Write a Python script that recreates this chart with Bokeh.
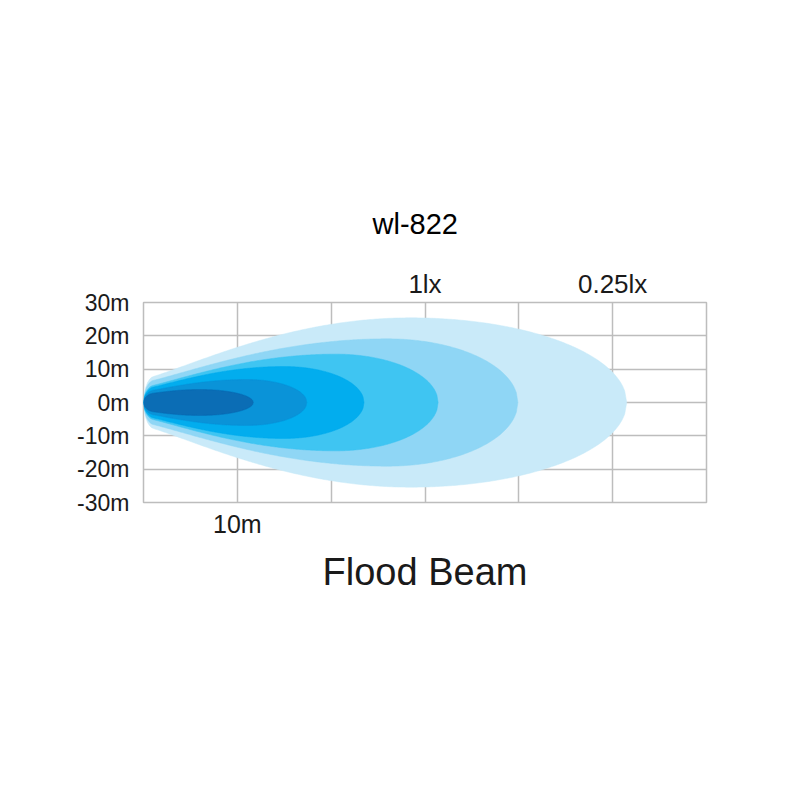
import numpy as np
from bokeh.plotting import figure
from bokeh.models import Range1d, FixedTicker, LinearAxis, Title, ColumnDataSource, Grid
from bokeh.embed import file_html
from bokeh.resources import INLINE

# ---- data (metres) ----
title_text = "wl-822"
subtitle_text = "Flood Beam"
y_ticks = [30, 20, 10, 0, -10, -20, -30]
y_tick_labels = ["30m", "20m", "10m", "0m", "-10m", "-20m", "-30m"]
x_grid = [0, 10, 20, 30, 40, 50, 60]
x_tick = [10]
x_tick_labels = ["10m"]
lux_pos = [30, 50]
lux_labels = ["1lx", "0.25lx"]

# iso-lux zones, outermost (faintest) to innermost (brightest)
zone_reach = [51.5, 39.9, 31.4, 23.5, 17.4, 11.7]      # tip distance
zone_peak_at = [28.5, 26.0, 20.5, 15.0, 11.0, 6.0]     # distance of widest point
zone_half_width = [25.4, 19.1, 14.5, 10.8, 6.9, 3.9]   # max half width
zone_start_half = [7.0, 6.0, 4.5, 4.0, 3.2, 2.4]       # half width at the lamp
zone_colors = ["#c9eaf9", "#8fd6f5", "#3fc5f2", "#02adee", "#0a93d8", "#0b6db5"]

FONT = "Liberation Sans"
TXT = "#1a1a1a"
GRID = "#bdbdbd"


def outline(R, P, H, h0, n=240):
    x = np.linspace(0, R, n)
    h = np.empty_like(x)
    left = x <= P
    t = x[left] / P
    h[left] = h0 + (H - h0) * (1 - (1 - t) ** 2) ** 1.2
    u = (x[~left] - P) / (R - P)
    h[~left] = H * np.sqrt(np.clip(1 - u ** 2, 0, 1))
    cap = np.sqrt(1 - (1 - np.minimum(x / 1.0, 1)) ** 2)
    h = h * cap
    xs = np.concatenate([x, x[::-1]])
    ys = np.concatenate([h, -h[::-1]])
    return list(xs), list(ys)


p = figure(width=792, height=792, output_backend="svg", toolbar_location=None,
           x_range=Range1d(0, 60), y_range=Range1d(-30, 30),
           x_axis_type=None, y_axis_type=None,
           min_border_left=143, min_border_right=86,
           min_border_top=302, min_border_bottom=290)
p.background_fill_color = "white"
p.border_fill_color = "white"
p.outline_line_color = GRID
p.outline_line_width = 1.5

xs_all, ys_all = [], []
for R, P, H, h0 in zip(zone_reach, zone_peak_at, zone_half_width, zone_start_half):
    xs, ys = outline(R, P, H, h0)
    xs_all.append(xs)
    ys_all.append(ys)
src = ColumnDataSource(dict(xs=xs_all, ys=ys_all, color=zone_colors))
p.patches("xs", "ys", source=src, fill_color="color", line_color="color", line_width=0.5)

# axes with custom labels
yax = LinearAxis(ticker=FixedTicker(ticks=y_ticks),
                 major_label_overrides={t: l for t, l in zip(y_ticks, y_tick_labels)})
xax = LinearAxis(ticker=FixedTicker(ticks=x_tick),
                 major_label_overrides={t: l for t, l in zip(x_tick, x_tick_labels)})
tax = LinearAxis(ticker=FixedTicker(ticks=lux_pos),
                 major_label_overrides={t: l for t, l in zip(lux_pos, lux_labels)})
for ax, size, so in ((yax, "23px", 8), (xax, "25px", 1), (tax, "26px", -2)):
    ax.axis_line_color = None
    ax.major_tick_line_color = None
    ax.minor_tick_line_color = None
    ax.major_label_text_font = FONT
    ax.major_label_text_font_size = size
    ax.major_label_text_color = TXT
    ax.major_label_standoff = so
p.add_layout(yax, "left")
p.add_layout(xax, "below")
p.add_layout(tax, "above")

# grid
gx = Grid(dimension=0, ticker=FixedTicker(ticks=x_grid), grid_line_color=GRID, grid_line_width=1.5)
gy = Grid(dimension=1, ticker=FixedTicker(ticks=y_ticks), grid_line_color=GRID, grid_line_width=1.5)
p.add_layout(gx)
p.add_layout(gy)

t1 = Title(text=title_text, align="left", text_font=FONT, text_font_size="29px",
           text_color="black", text_font_style="normal", standoff=52, offset=229)
t2 = Title(text=subtitle_text, align="center", text_font=FONT, text_font_size="38px",
           text_color=TXT, text_font_style="normal", standoff=16)
p.add_layout(t1, "above")
p.add_layout(t2, "below")

open("out.html", "w").write(file_html(p, INLINE))
